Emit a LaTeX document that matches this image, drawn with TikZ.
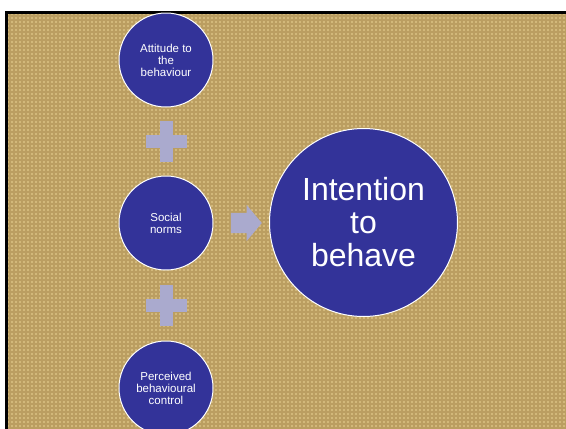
\documentclass[tikz,border=0pt]{standalone}
\usepackage{fontspec}
\setmainfont{Liberation Sans}
\usetikzlibrary{shapes.arrows}
\definecolor{burlap}{RGB}{210,184,122}
\definecolor{weave}{RGB}{168,136,76}
\definecolor{discblue}{RGB}{51,51,153}
\definecolor{lilac}{RGB}{170,170,206}
\tikzset{
  factor/.style={circle,fill=discblue,draw=white,line width=1pt,text=white,
    minimum size=94pt,inner sep=0pt,align=center,
    font=\fontsize{11.5}{11.9}\selectfont},
  outcome/.style={factor,minimum size=188pt,font=\fontsize{32}{33}\selectfont},
  plusbar/.style={fill=lilac},
  thread/.style={draw=weave!55!burlap,line width=1.2pt},
  pointer/.style={single arrow,fill=lilac,inner xsep=0pt,inner ysep=10pt,
    minimum height=31pt,single arrow head extend=8pt,single arrow tip angle=100},
}
\newcommand{\plussign}[1]{%
  \fill[plusbar] ([shift={(-6.5,-20.5)}]#1) rectangle ([shift={(6.5,20.5)}]#1);
  \fill[plusbar] ([shift={(-20.5,-6.5)}]#1) rectangle ([shift={(20.5,6.5)}]#1);}

\begin{document}
\begin{tikzpicture}[x=1pt,y=-1pt]
\useasboundingbox (0,0) rectangle (566,429);
% slide background and frame
\fill[white] (0,0) rectangle (566,429);
\fill[burlap] (8,14) rectangle (566,429);
\foreach \i in {10,14,...,566} \draw[thread] (\i,14) -- (\i,429);
\foreach \j in {16,20,...,429} \draw[thread] (8,\j) -- (566,\j);
\draw[line width=3pt] (6.5,429) -- (6.5,12.5) -- (566,12.5);
% the three factors
\node[factor] (att) at (166,60) {Attitude to\\the\\behaviour};
\node[factor] (soc) at (166,223) {Social\\norms};
\node[factor] (per) at (166,388) {Perceived\\behavioural\\control};
% the outcome
\node[outcome] (int) at (363.5,222.5) {Intention\\to\\behave};
% plus signs between the factors
\path (att) -- (soc) coordinate[midway] (p1);
\path (soc) -- (per) coordinate[midway] (p2);
\plussign{p1}
\plussign{p2}
\node[pointer] (arr) at (242,223) {};
\end{tikzpicture}
\end{document}
